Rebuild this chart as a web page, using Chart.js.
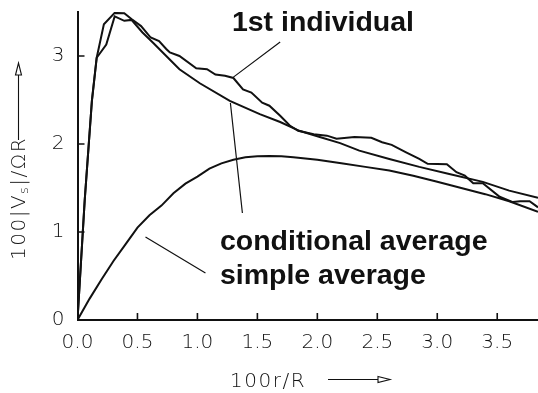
<!DOCTYPE html>
<html><head><meta charset="utf-8">
<script src="https://cdn.jsdelivr.net/npm/chart.js@4"></script>
<style>html,body{margin:0;padding:0;background:#fff;}#wrap{width:538px;height:393px;position:relative;}</style>
</head><body><div id="wrap"><canvas id="c" width="538" height="393"></canvas></div>
<script>
// ---- data ----
const simpleX = [0,0.1,0.2,0.3,0.4,0.5,0.6,0.7,0.8,0.9,1.0,1.1,1.2,1.3,1.4,1.5,1.6,1.7,1.8,2.0,2.2,2.4,2.6,2.8,3.0,3.2,3.4,3.6,3.84];
const simpleY = [0,0.24,0.46,0.67,0.86,1.05,1.19,1.30,1.44,1.55,1.63,1.72,1.78,1.82,1.85,1.86,1.865,1.86,1.85,1.82,1.78,1.74,1.70,1.64,1.57,1.50,1.43,1.35,1.23];

const condX = [0,0.06,0.12,0.16,0.24,0.31,0.39,0.45,0.54,0.63,0.74,0.85,1.02,1.27,1.52,1.69,1.85,2.02,2.19,2.35,2.60,2.85,3.10,3.38,3.60,3.84];
const condY = [0,1.36,2.49,2.98,3.13,3.45,3.40,3.41,3.27,3.15,3.00,2.85,2.69,2.49,2.34,2.25,2.15,2.08,2.01,1.925,1.83,1.74,1.66,1.57,1.47,1.39];

const indivX = [0,0.06,0.12,0.16,0.22,0.31,0.39,0.45,0.53,0.61,0.68,0.74,0.77,0.85,0.99,1.08,1.15,1.23,1.30,1.38,1.45,1.54,1.60,1.69,1.77,1.84,1.97,2.08,2.16,2.31,2.45,2.54,2.62,2.74,2.85,2.92,3.08,3.16,3.23,3.30,3.38,3.52,3.63,3.69,3.77,3.84];
const indivY = [0,1.36,2.49,2.98,3.36,3.49,3.485,3.42,3.34,3.21,3.17,3.08,3.04,3.00,2.86,2.85,2.79,2.775,2.75,2.62,2.585,2.47,2.435,2.32,2.21,2.15,2.11,2.095,2.06,2.08,2.07,2.02,1.99,1.905,1.83,1.775,1.77,1.68,1.64,1.555,1.555,1.40,1.34,1.35,1.35,1.28];

const xTicks = [0,0.5,1.0,1.5,2.0,2.5,3.0,3.5];
const yTicks = [0,1,2,3];

const labelNames = ['1st individual','conditional average','simple average'];
// callout leader lines, in data units [x1,y1,x2,y2]
const leaderLines = [[1.69,3.16,1.30,2.76],[1.275,2.466,1.375,1.216],[0.567,0.943,1.067,0.534]];
// ---- layout / style ----
const labelPos = [[1.2875,3.284],[1.1875,0.793],[1.1875,0.408]];
const INK = '#111';
const TICKFONT = '"DejaVu Sans", sans-serif';

function pts(xs, ys){ return xs.map((x,i)=>({x:x,y:ys[i]})); }

const decor = {
  id:'decor',
  afterDraw(chart){
    const ctx = chart.ctx, xs = chart.scales.x, ys = chart.scales.y;
    const ca = chart.chartArea;
    ctx.save();
    ctx.strokeStyle = INK; ctx.lineWidth = 1.6;
    ctx.beginPath();
    yTicks.forEach(v=>{ if(v===0) return; const py = ys.getPixelForValue(v); ctx.moveTo(ca.left, py); ctx.lineTo(ca.left+7, py); });
    xTicks.forEach(v=>{ if(v===0) return; const px = xs.getPixelForValue(v); ctx.moveTo(px, ca.bottom); ctx.lineTo(px, ca.bottom-7); });
    ctx.stroke();
    ctx.lineWidth = 1.2;
    ctx.beginPath();
    leaderLines.forEach(l=>{ ctx.moveTo(xs.getPixelForValue(l[0]), ys.getPixelForValue(l[1])); ctx.lineTo(xs.getPixelForValue(l[2]), ys.getPixelForValue(l[3])); });
    ctx.stroke();
    ctx.fillStyle = INK;
    ctx.font = 'bold 28.5px "Liberation Sans", Arial, sans-serif';
    ctx.textBaseline = 'alphabetic'; ctx.textAlign = 'left';
    labelNames.forEach((t,i)=>{ ctx.fillText(t, xs.getPixelForValue(labelPos[i][0]), ys.getPixelForValue(labelPos[i][1])); });

    function spaced(parts, x, y, sp){
      parts.forEach(p=>{
        ctx.font = p.font;
        for(const ch of p.t){ ctx.fillText(ch, x, y + (p.dy||0)); x += ctx.measureText(ch).width + sp; }
      });
      return x;
    }
    const F = '200 20px ' + TICKFONT, FS = '200 13px ' + TICKFONT;
    spaced([{t:'100r/R', font:F}], 230, 387, 1.5);
    ctx.lineWidth = 1.1;
    ctx.beginPath(); ctx.moveTo(328,379.5); ctx.lineTo(378,379.5); ctx.stroke();
    ctx.beginPath(); ctx.moveTo(378,376.5); ctx.lineTo(390,379.5); ctx.lineTo(378,382.5); ctx.closePath(); ctx.stroke();
    ctx.translate(25, 260); ctx.rotate(-Math.PI/2);
    spaced([{t:'100|V', font:F},{t:'s', font:FS, dy:3},{t:'|/ΩR', font:F}], 0, 0, 1.5);
    ctx.beginPath(); ctx.moveTo(120,-6.5); ctx.lineTo(185,-6.5); ctx.stroke();
    ctx.beginPath(); ctx.moveTo(185,-9.5); ctx.lineTo(197,-6.5); ctx.lineTo(185,-3.5); ctx.closePath(); ctx.stroke();
    ctx.restore();
  }
};

const ds = (d)=>({data:d, borderColor:INK, borderWidth:2, pointRadius:0, tension:0, fill:false});

new Chart(document.getElementById('c'), {
  type:'line',
  data:{ datasets:[ ds(pts(simpleX,simpleY)), ds(pts(condX,condY)), ds(pts(indivX,indivY)) ] },
  options:{
    responsive:false, animation:false,
    layout:{padding:{top:12,right:0,left:0,bottom:0}},
    plugins:{legend:{display:false}, tooltip:{enabled:false}},
    scales:{
      x:{ type:'linear', min:0, max:3.84,
          grid:{display:false, drawTicks:false},
          border:{display:true, color:INK, width:2},
          afterBuildTicks(s){ s.ticks = xTicks.map(v=>({value:v})); },
          afterFit(s){ s.height = 73; s.paddingLeft = 0; s.paddingRight = 0; },
          ticks:{ color:INK, padding:11, font:{family:TICKFONT, size:20, weight:'200'}, maxRotation:0, autoSkip:false,
                  callback:(v)=>Number(v).toFixed(1) } },
      y:{ type:'linear', min:0, max:3.5,
          grid:{display:false, drawTicks:false},
          border:{display:true, color:INK, width:2},
          afterBuildTicks(s){ s.ticks = yTicks.map(v=>({value:v})); },
          afterFit(s){ s.width = 77.5; s.paddingTop = 0; s.paddingBottom = 0; },
          ticks:{ color:INK, padding:13, font:{family:TICKFONT, size:20, weight:'200'}, callback:(v)=>String(v) } }
    }
  },
  plugins:[decor]
});
</script></body></html>
